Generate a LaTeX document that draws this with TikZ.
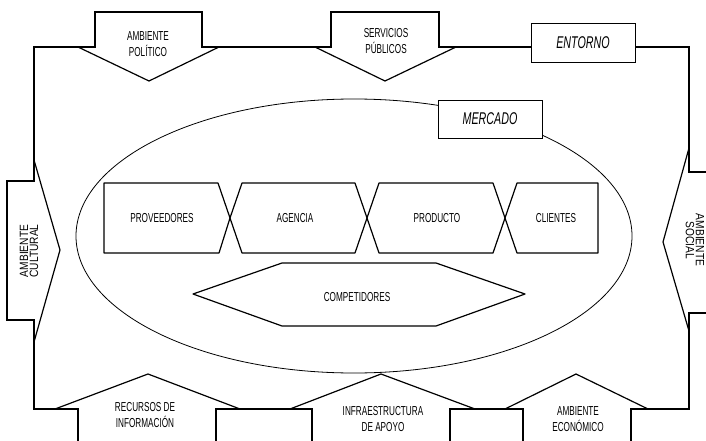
\documentclass[tikz,border=0pt]{standalone}
\usepackage{fontspec}
\newfontfamily\narrowfont[FakeStretch=0.63]{Liberation Sans}
\newfontfamily\sidefont[FakeStretch=0.85]{Liberation Sans}

\tikzset{
  frameline/.style={line width=1.6pt, line join=miter},
  chainline/.style={line width=1.2pt, line join=round},
  label/.style={font=\narrowfont\fontsize{13}{16}\selectfont, align=center, inner sep=0pt},
  sidelabel/.style={font=\sidefont\fontsize{12}{10}\selectfont, align=center, inner sep=0pt},
  titlebox/.style={draw, line width=0.9pt, fill=white, minimum width=104pt, minimum height=39pt,
    font=\narrowfont\itshape\fontsize{17}{20}\selectfont}
}

\begin{document}
\begin{tikzpicture}[x=1pt, y=-1pt]

    % Page size
    \clip (0,0) rectangle (706,441);
    \fill[white] (0,0) rectangle (706,441);

    % Draw the outer frame with the arrow bodies
    \draw[frameline] (34,181) -- (34,47) -- (95,47) -- (95,12) -- (202,12) -- (202,47)
        -- (331,47) -- (331,12) -- (439,12) -- (439,47) -- (689,47) -- (689,172)
        -- (720,172) -- (720,313) -- (689,313) -- (689,409) -- (631,409) -- (631,450)
        -- (523,450) -- (523,409) -- (450,409) -- (450,450) -- (312,450) -- (312,409)
        -- (216,409) -- (216,450) -- (78,450) -- (78,409) -- (34,409) -- (34,320)
        -- (7,320) -- (7,181) -- cycle;

    % Draw the arrow heads
    \draw[chainline] (78,47) -- (149,81) -- (219,47);
    \draw[chainline] (315,47) -- (385,81) -- (456,47);
    \draw[chainline] (34,160) -- (60,250) -- (34,342);
    \draw[chainline] (689,148) -- (663,242) -- (689,331);
    \draw[chainline] (55,409) -- (148,374) -- (240,409);
    \draw[chainline] (290,409) -- (381,374) -- (475,409);
    \draw[chainline] (505,409) -- (576,374) -- (648,409);

    % Draw the market ellipse
    \draw[line width=0.8pt] (354,236) ellipse (278 and 137);

    % Draw the chain of the market
    \draw[chainline] (104,183) -- (218,183) -- (230,218) -- (219,253) -- (104,253) -- cycle;
    \draw[chainline] (230,218) -- (242,183) -- (355,183) -- (367,218) -- (355,253) -- (242,253) -- cycle;
    \draw[chainline] (367,218) -- (379,183) -- (493,183) -- (505,218) -- (493,253) -- (379,253) -- cycle;
    \draw[chainline] (505,218) -- (517,183) -- (598,183) -- (598,253) -- (517,253) -- cycle;
    \draw[chainline] (193,294) -- (282,263) -- (436,263) -- (525,294) -- (436,326) -- (282,326) -- cycle;

    % Add the boxes with titles
    \node[titlebox] (entorno) at (583,42.5) {ENTORNO};
    \node[titlebox, minimum height=38pt] (mercado) at (490,119) {MERCADO};

    % Add the labels
    \node[label] (politico) at (148,44) {AMBIENTE\\POLÍTICO};
    \node[label] (servicios) at (386,41) {SERVICIOS\\PÚBLICOS};
    \node[label] (proveedores) at (162,218) {PROVEEDORES};
    \node[label] (agencia) at (295,218) {AGENCIA};
    \node[label] (producto) at (437,218) {PRODUCTO};
    \node[label] (clientes) at (556,218) {CLIENTES};
    \node[label] (competidores) at (357,297) {COMPETIDORES};
    \node[label] (recursos) at (145,415) {RECURSOS DE\\INFORMACIÓN};
    \node[label] (infra) at (383,419) {INFRAESTRUCTURA\\DE APOYO};
    \node[label] (economico) at (578,419) {AMBIENTE\\ECONÓMICO};
    \node[sidelabel, rotate=90] (cultural) at (29,251) {AMBIENTE\\CULTURAL};
    \node[sidelabel, rotate=-90] (social) at (695,240) {AMBIENTE\\SOCIAL};

\end{tikzpicture}
\end{document}
